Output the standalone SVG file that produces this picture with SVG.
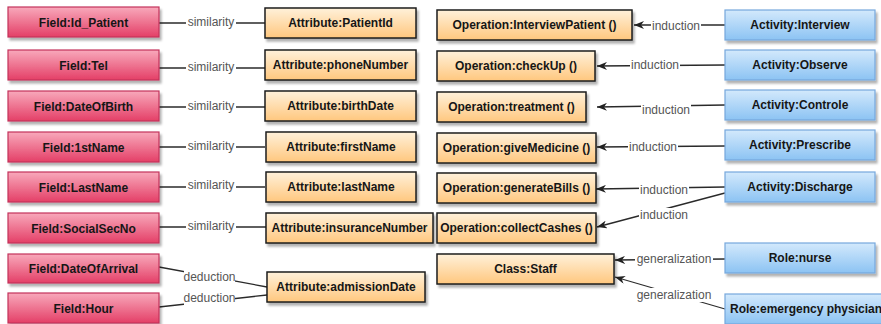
<svg xmlns="http://www.w3.org/2000/svg" width="881" height="324" viewBox="0 0 881 324">
<defs>
<linearGradient id="gPink" x1="0" y1="0" x2="0" y2="1"><stop offset="0" stop-color="#f8a9bb"/><stop offset="1" stop-color="#e43f67"/></linearGradient>
<linearGradient id="gOrange" x1="0" y1="0" x2="0" y2="1"><stop offset="0" stop-color="#fff1da"/><stop offset="1" stop-color="#ffc77e"/></linearGradient>
<linearGradient id="gBlue" x1="0" y1="0" x2="0" y2="1"><stop offset="0" stop-color="#d3e9fc"/><stop offset="1" stop-color="#8cc3f3"/></linearGradient>
<filter id="sh" x="-10%" y="-20%" width="130%" height="160%"><feDropShadow dx="2" dy="3" stdDeviation="1.2" flood-color="#000" flood-opacity="0.3"/></filter>
<marker id="arr" viewBox="0 0 10 8" refX="10" refY="4" markerWidth="10" markerHeight="8" markerUnits="userSpaceOnUse" orient="auto"><path d="M0,0 L10,4 L0,8 L3,4 Z" fill="#222"/></marker>
</defs>
<style>
.field{fill:url(#gPink);stroke:#c3325a;stroke-width:1.2;filter:url(#sh)}
.attr{fill:url(#gOrange);stroke:#1e1e1e;stroke-width:1.5;filter:url(#sh)}
.act{fill:url(#gBlue);stroke:#76a7dc;stroke-width:1.2;filter:url(#sh)}
.t{font-family:"Liberation Sans",Arial,sans-serif;font-size:12px;font-weight:bold;fill:#161616;text-anchor:middle}
.c{stroke:#2a2a2a;stroke-width:1.3;fill:none}
.a{marker-end:url(#arr)}
.lb{fill:#fff}
.l{font-family:"Liberation Sans",Arial,sans-serif;font-size:12px;fill:#555;text-anchor:middle}
</style>
<rect width="881" height="324" fill="#fff"/>

<g id="connectors">
<line class="c" x1="159" y1="23" x2="265" y2="23"/>
<line class="c" x1="159" y1="68" x2="265" y2="68"/>
<line class="c" x1="159" y1="107" x2="265" y2="107"/>
<line class="c" x1="159" y1="147" x2="265" y2="147"/>
<line class="c" x1="159" y1="187" x2="265" y2="187"/>
<line class="c" x1="159" y1="227" x2="266" y2="227"/>
<line class="c" x1="159" y1="267" x2="267" y2="287"/>
<line class="c" x1="159" y1="307" x2="267" y2="295"/>
<line class="c a" x1="725" y1="25" x2="634" y2="25"/>
<line class="c a" x1="725" y1="65" x2="597" y2="66"/>
<line class="c a" x1="725" y1="105" x2="597" y2="107"/>
<line class="c a" x1="725" y1="146" x2="597" y2="147"/>
<line class="c a" x1="725" y1="187" x2="596" y2="189"/>
<line class="c a" x1="725" y1="193" x2="597" y2="227"/>
<line class="c a" x1="725" y1="259" x2="615" y2="260"/>
<line class="c a" x1="725" y1="309" x2="615" y2="277"/>
<g>
<rect class="lb" x="186" y="15" width="50" height="14"/><text class="l" x="211" y="26">similarity</text>
<rect class="lb" x="186" y="60" width="50" height="14"/><text class="l" x="211" y="71">similarity</text>
<rect class="lb" x="186" y="99" width="50" height="14"/><text class="l" x="211" y="110">similarity</text>
<rect class="lb" x="186" y="139" width="50" height="14"/><text class="l" x="211" y="150">similarity</text>
<rect class="lb" x="186" y="178" width="50" height="14"/><text class="l" x="211" y="189">similarity</text>
<rect class="lb" x="186" y="219" width="50" height="14"/><text class="l" x="211" y="230">similarity</text>
<rect class="lb" x="184" y="270" width="51" height="14"/><text class="l" x="209.5" y="281">deduction</text>
<rect class="lb" x="184" y="291" width="51" height="14"/><text class="l" x="209.5" y="302">deduction</text>
<rect class="lb" x="651" y="19" width="50" height="14"/><text class="l" x="676" y="30">induction</text>
<rect class="lb" x="630" y="58" width="50" height="14"/><text class="l" x="655" y="69">induction</text>
<rect class="lb" x="641" y="103" width="50" height="14"/><text class="l" x="666" y="114">induction</text>
<rect class="lb" x="628" y="140" width="50" height="14"/><text class="l" x="653" y="151">induction</text>
<rect class="lb" x="639" y="183" width="50" height="14"/><text class="l" x="664" y="194">induction</text>
<rect class="lb" x="639" y="208" width="50" height="14"/><text class="l" x="664" y="219">induction</text>
<rect class="lb" x="635" y="252" width="78" height="14"/><text class="l" x="674" y="263">generalization</text>
<rect class="lb" x="635" y="288" width="78" height="14"/><text class="l" x="674" y="299">generalization</text>
</g>
</g>

<g id="field-id-patient"><rect class="field" x="8" y="7" width="151" height="30"/><text class="t" x="83.5" y="26.5">Field:Id_Patient</text></g>
<g id="field-tel"><rect class="field" x="8" y="50" width="151" height="30"/><text class="t" x="83.5" y="69.5">Field:Tel</text></g>
<g id="field-dateofbirth"><rect class="field" x="8" y="91" width="151" height="30"/><text class="t" x="83.5" y="110.5">Field:DateOfBirth</text></g>
<g id="field-1stname"><rect class="field" x="8" y="132" width="151" height="30"/><text class="t" x="83.5" y="151.5">Field:1stName</text></g>
<g id="field-lastname"><rect class="field" x="8" y="172" width="151" height="30"/><text class="t" x="83.5" y="191.5">Field:LastName</text></g>
<g id="field-socialsecno"><rect class="field" x="8" y="213" width="151" height="30"/><text class="t" x="83.5" y="232.5">Field:SocialSecNo</text></g>
<g id="field-dateofarrival"><rect class="field" x="8" y="254" width="151" height="29"/><text class="t" x="83.5" y="272.5">Field:DateOfArrival</text></g>
<g id="field-hour"><rect class="field" x="8" y="293" width="151" height="30"/><text class="t" x="83.5" y="312.5">Field:Hour</text></g>

<g id="attr-patientid"><rect class="attr" x="265" y="8" width="151" height="30"/><text class="t" x="340.5" y="27">Attribute:PatientId</text></g>
<g id="attr-phonenumber"><rect class="attr" x="265" y="50" width="151" height="30"/><text class="t" x="340.5" y="69">Attribute:phoneNumber</text></g>
<g id="attr-birthdate"><rect class="attr" x="265" y="91" width="151" height="30"/><text class="t" x="340.5" y="110">Attribute:birthDate</text></g>
<g id="attr-firstname"><rect class="attr" x="266" y="132" width="150" height="30"/><text class="t" x="341" y="151">Attribute:firstName</text></g>
<g id="attr-lastname"><rect class="attr" x="266" y="172" width="150" height="30"/><text class="t" x="341" y="191">Attribute:lastName</text></g>
<g id="attr-insurancenumber"><rect class="attr" x="266" y="213" width="167" height="30"/><text class="t" x="349.5" y="232">Attribute:insuranceNumber</text></g>
<g id="attr-admissiondate"><rect class="attr" x="267" y="272" width="158" height="30"/><text class="t" x="346" y="291">Attribute:admissionDate</text></g>

<g id="op-interviewpatient"><rect class="attr" x="437" y="10" width="195" height="30"/><text class="t" x="534.5" y="29">Operation:InterviewPatient ()</text></g>
<g id="op-checkup"><rect class="attr" x="437" y="51" width="158" height="30"/><text class="t" x="516" y="70">Operation:checkUp ()</text></g>
<g id="op-treatment"><rect class="attr" x="437" y="92" width="149" height="30"/><text class="t" x="511.5" y="111">Operation:treatment ()</text></g>
<g id="op-givemedicine"><rect class="attr" x="437" y="133" width="159" height="30"/><text class="t" x="516.5" y="152">Operation:giveMedicine ()</text></g>
<g id="op-generatebills"><rect class="attr" x="437" y="173" width="159" height="30"/><text class="t" x="516.5" y="192">Operation:generateBills ()</text></g>
<g id="op-collectcashes"><rect class="attr" x="437" y="213" width="159" height="30"/><text class="t" x="516.5" y="232">Operation:collectCashes ()</text></g>
<g id="class-staff"><rect class="attr" x="437" y="254" width="177" height="30"/><text class="t" x="525.5" y="273">Class:Staff</text></g>

<g id="act-interview"><rect class="act" x="725" y="10" width="150" height="30"/><text class="t" x="800" y="29">Activity:Interview</text></g>
<g id="act-observe"><rect class="act" x="725" y="50" width="150" height="30"/><text class="t" x="800" y="69">Activity:Observe</text></g>
<g id="act-controle"><rect class="act" x="725" y="90" width="150" height="30"/><text class="t" x="800" y="109">Activity:Controle</text></g>
<g id="act-prescribe"><rect class="act" x="725" y="130" width="150" height="30"/><text class="t" x="800" y="149">Activity:Prescribe</text></g>
<g id="act-discharge"><rect class="act" x="725" y="172" width="150" height="30"/><text class="t" x="800" y="191">Activity:Discharge</text></g>
<g id="role-nurse"><rect class="act" x="725" y="243" width="150" height="30"/><text class="t" x="800" y="262">Role:nurse</text></g>
<g id="role-emergency-physician"><rect class="act" x="725" y="294" width="162" height="30"/><text class="t" x="806" y="313">Role:emergency physician</text></g>
</svg>
